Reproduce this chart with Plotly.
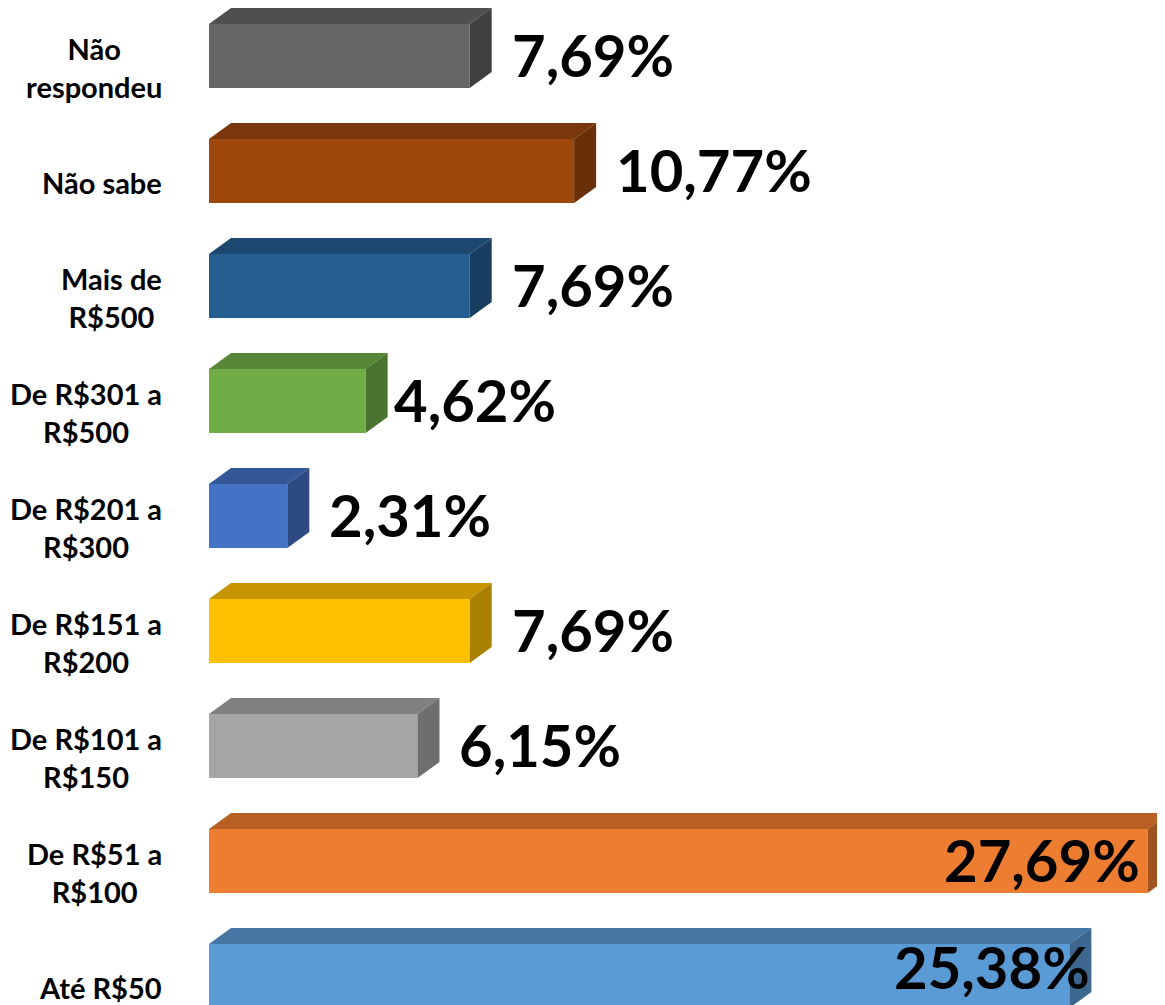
import plotly.graph_objects as go

# ---------------- data ----------------
categories = ["Até R$50", "De R$51 a R$100", "De R$101 a R$150", "De R$151 a R$200",
              "De R$201 a R$300", "De R$301 a R$500", "Mais de R$500", "Não sabe", "Não respondeu"]
category_labels = ["Até R$50", "De R$51 a<br>R$100", "De R$101 a<br>R$150", "De R$151 a<br>R$200",
                   "De R$201 a<br>R$300", "De R$301 a<br>R$500", "Mais de<br>R$500", "Não sabe",
                   "Não<br>respondeu"]
values = [25.38, 27.69, 6.15, 7.69, 2.31, 4.62, 7.69, 10.77, 7.69]
value_labels = ["25,38%", "27,69%", "6,15%", "7,69%", "2,31%", "4,62%", "7,69%", "10,77%", "7,69%"]

# ---------------- style ----------------
front_colors = ["#5B9BD5", "#ED7D31", "#A5A5A5", "#FFC000", "#4472C4", "#70AD47", "#255E91", "#9E480E", "#666666"]
top_colors = ["#4676A3", "#B85F24", "#808080", "#C69500", "#345797", "#568636", "#1C4870", "#7A370B", "#4F4F4F"]
side_colors = ["#3D678F", "#A0521F", "#6E6E6E", "#A98000", "#2D4A82", "#4B7430", "#183E61", "#692F09", "#404040"]

# page has an 8px body margin: size the figure so it ends at the window edge
W, H = 1157, 997
M_LEFT = 201
X_MAX = 28.2
Y_MIN, Y_MAX = -0.252, 8.418
px_x = (W - M_LEFT) / X_MAX
px_y = H / (Y_MAX - Y_MIN)
BAR_W = 64 / px_y
DX = 22 / px_x
DY = 16 / px_y
INSIDE_THRESHOLD = 20
label_nudge_x = {0: 23, 1: -6, 5: -14}
label_nudge_y = {0: 8}

FONT = "Lato"

ypos = list(range(len(categories)))

fig = go.Figure()
fig.add_trace(go.Bar(
    x=values, y=ypos, orientation="h", width=BAR_W,
    marker=dict(color=front_colors, line=dict(width=0)),
    hovertext=categories, hoverinfo="text+x", showlegend=False,
))

shapes = []
annotations = []
for i, v in enumerate(values):
    top = i + BAR_W / 2
    bot = i - BAR_W / 2
    shapes.append(dict(type="path", xref="x", yref="y", layer="above", line=dict(width=0),
                       fillcolor=top_colors[i],
                       path=f"M 0,{top} L {v},{top} L {v + DX},{top + DY} L {DX},{top + DY} Z"))
    shapes.append(dict(type="path", xref="x", yref="y", layer="above", line=dict(width=0),
                       fillcolor=side_colors[i],
                       path=f"M {v},{bot} L {v + DX},{bot + DY} L {v + DX},{top + DY} L {v},{top} Z"))
    # category label
    annotations.append(dict(x=0, y=i, xref="paper", yref="y", text=f"<b>{category_labels[i]}</b>",
                            showarrow=False, xanchor="right", yanchor="middle", align="center",
                            xshift=-45, yshift=-11,
                            font=dict(family=FONT, size=29, color="black")))
    # value label
    inside = v > INSIDE_THRESHOLD
    annotations.append(dict(x=v, y=i, xref="x", yref="y", text=f"<b>{value_labels[i]}</b>",
                            showarrow=False, xanchor="right" if inside else "left", yanchor="middle",
                            xshift=(0 if inside else 40) + label_nudge_x.get(i, 0),
                            yshift=2 + label_nudge_y.get(i, 0),
                            font=dict(family=FONT, size=58, color="black")))

fig.update_layout(
    width=W, height=H,
    margin=dict(l=M_LEFT, r=0, t=0, b=0, pad=0),
    paper_bgcolor="white", plot_bgcolor="white",
    xaxis=dict(range=[0, X_MAX], visible=False, fixedrange=True),
    yaxis=dict(range=[Y_MIN, Y_MAX], visible=False, fixedrange=True),
    shapes=shapes, annotations=annotations,
    font=dict(family=FONT),
)

fig.write_html("out.html")
